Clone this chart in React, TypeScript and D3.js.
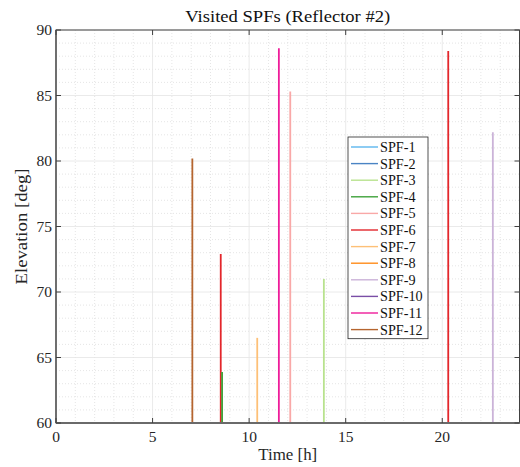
import React from "react";
import * as d3 from "d3";

const SPF_NAMES = ["SPF-1","SPF-2","SPF-3","SPF-4","SPF-5","SPF-6","SPF-7","SPF-8","SPF-9","SPF-10","SPF-11","SPF-12"];
const SPF_COLORS = ["#5cb6ee","#4a84c4","#b8e28e","#3fa23a","#f9a8a7","#e3262b","#fdc077","#ff8c1a","#cbb3d8","#7a4ea6","#ee1c9a","#b5652f"];

// each visit: which SPF, time [h], peak elevation [deg]
const VISIT_SPF = [12, 6, 4, 7, 11, 5, 3, 6, 9];
const VISIT_TIME = [7.06, 8.53, 8.6, 10.42, 11.54, 12.13, 13.87, 20.31, 22.62];
const VISIT_PEAK = [80.2, 72.9, 63.9, 66.5, 88.6, 85.3, 71.0, 88.4, 82.2];

const X_TICKS = [0, 5, 10, 15, 20];
const Y_TICKS = [60, 65, 70, 75, 80, 85, 90];

const W = 520, H = 467;
const L = 56, R = 519.5, T = 30, B = 423;
const FONT = "'Liberation Serif', 'DejaVu Serif', serif";

export default function App() {
  const x = d3.scaleLinear().domain([0, 24]).range([L, R]);
  const y = d3.scaleLinear().domain([60, 90]).range([B, T]);
  const line = d3.line<[number, number]>().x(d => x(d[0])).y(d => y(d[1]));
  const minorX = d3.range(1, 24, 1).filter(v => v % 5 !== 0);
  const minorY = d3.range(61, 90, 1).filter(v => v % 5 !== 0);
  const ax = "#404040";
  const legX = 348, legY = 137, legW = 80, legRow = 16.6;
  return (
    <svg width={W} height={H} style={{ position: "absolute", left: 0, top: 0, background: "#fff" }} fontFamily={FONT}>
      <rect x={0} y={0} width={W} height={H} fill="#fff" />
      {/* minor grid */}
      {minorX.map(v => (
        <line key={"mx" + v} x1={x(v)} x2={x(v)} y1={T} y2={B} stroke="#dedede" strokeWidth={0.8} strokeDasharray="1,2" />
      ))}
      {minorY.map(v => (
        <line key={"my" + v} x1={L} x2={R} y1={y(v)} y2={y(v)} stroke="#dedede" strokeWidth={0.8} strokeDasharray="1,2" />
      ))}
      {/* major grid */}
      {X_TICKS.map(v => (
        <line key={"gx" + v} x1={x(v)} x2={x(v)} y1={T} y2={B} stroke="#e4e4e4" strokeWidth={0.8} />
      ))}
      {Y_TICKS.map(v => (
        <line key={"gy" + v} x1={L} x2={R} y1={y(v)} y2={y(v)} stroke="#e4e4e4" strokeWidth={0.8} />
      ))}
      {/* data */}
      {VISIT_SPF.map((s, i) => (
        <path key={"v" + i}
          d={line([[VISIT_TIME[i], 60], [VISIT_TIME[i], VISIT_PEAK[i]]]) || ""}
          stroke={SPF_COLORS[s - 1]} strokeWidth={1.8} fill="none" />
      ))}
      {/* frame */}
      <rect x={L} y={T} width={R - L} height={B - T} fill="none" stroke={ax} strokeWidth={1} />
      <line x1={L} x2={R} y1={B} y2={B} stroke="#6a6a6a" strokeWidth={1.8} />
      <line x1={L} x2={L} y1={T} y2={B} stroke="#6a6a6a" strokeWidth={1.8} />
      {X_TICKS.map(v => (
        <g key={"tx" + v}>
          <line x1={x(v)} x2={x(v)} y1={B} y2={B - 5} stroke={ax} />
          <line x1={x(v)} x2={x(v)} y1={T} y2={T + 5} stroke={ax} />
          <text x={x(v)} y={B + 19} textAnchor="middle" fontSize={15.5} fill="#262626">{v}</text>
        </g>
      ))}
      {Y_TICKS.map(v => (
        <g key={"ty" + v}>
          <line x1={L} x2={L + 5} y1={y(v)} y2={y(v)} stroke={ax} />
          <line x1={R} x2={R - 5} y1={y(v)} y2={y(v)} stroke={ax} />
          <text x={L - 4} y={y(v) + 5} textAnchor="end" fontSize={15.5} fill="#262626">{v}</text>
        </g>
      ))}
      <text x={(L + R) / 2} y={22} textAnchor="middle" fontSize={17.5} textLength={205} lengthAdjust="spacingAndGlyphs" fill="#111">Visited SPFs (Reflector #2)</text>
      <text x={(L + R) / 2} y={460} textAnchor="middle" fontSize={17} textLength={59} lengthAdjust="spacingAndGlyphs" fill="#262626">Time [h]</text>
      <text transform={`translate(27, ${(T + B) / 2}) rotate(-90)`} textAnchor="middle" fontSize={17} textLength={116} lengthAdjust="spacingAndGlyphs" fill="#262626">Elevation [deg]</text>
      {/* legend */}
      <rect x={legX} y={legY} width={legW} height={legRow * 12 + 2.5} fill="#fff" stroke="#262626" strokeWidth={0.8} />
      {SPF_NAMES.map((n, i) => {
        const cy = legY + 10 + i * legRow;
        return (
          <g key={n}>
            <line x1={legX + 3} x2={legX + 30} y1={cy} y2={cy} stroke={SPF_COLORS[i]} strokeWidth={1.4} />
            <text x={legX + 32} y={cy + 5} fontSize={14.2} fill="#111">{n}</text>
          </g>
        );
      })}
    </svg>
  );
}
